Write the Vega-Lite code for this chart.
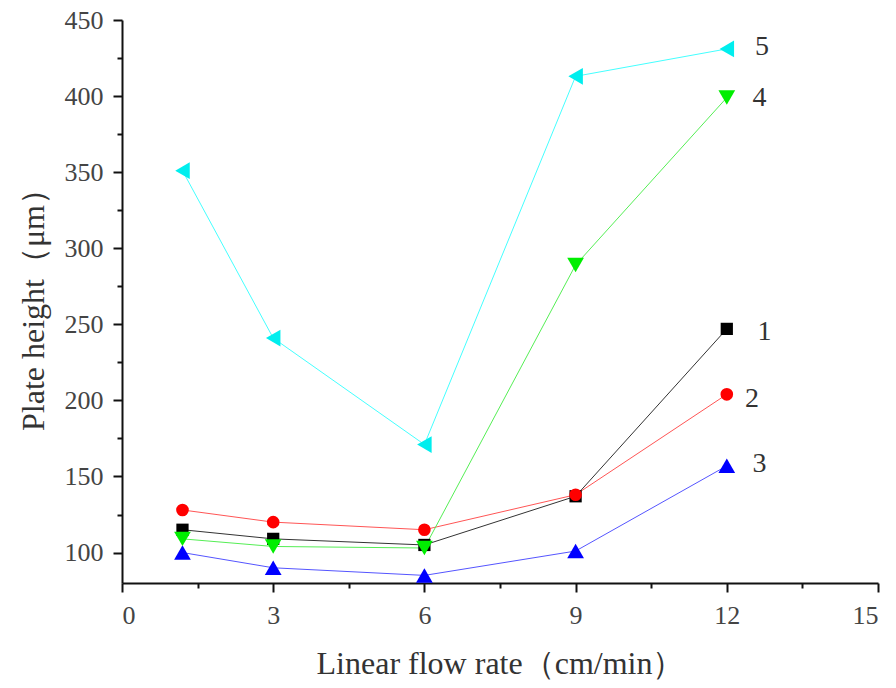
{
  "$schema": "https://vega.github.io/schema/vega-lite/v6.json",
  "autosize": "none",
  "width": 756,
  "height": 563,
  "padding": {"left": 122, "top": 20, "right": 18, "bottom": 105},
  "background": "white",
  "config": {
    "view": {"stroke": null},
    "font": "Liberation Serif",
    "axis": {
      "grid": false,
      "domainColor": "#111",
      "domainWidth": 2,
      "tickColor": "#111",
      "tickWidth": 2,
      "labelFont": "Liberation Serif",
      "titleFont": "Liberation Serif",
      "labelColor": "#444",
      "titleColor": "#333",
      "labelFontSize": 26,
      "titleFontSize": 32,
      "titleFontWeight": "normal"
    }
  },
  "datasets": {
    "pts": [
      {"series": "1", "x": 1.2, "y": 115},
      {"series": "1", "x": 3, "y": 109},
      {"series": "1", "x": 6, "y": 105},
      {"series": "1", "x": 9, "y": 137},
      {"series": "1", "x": 12, "y": 247},
      {"series": "2", "x": 1.2, "y": 128},
      {"series": "2", "x": 3, "y": 120},
      {"series": "2", "x": 6, "y": 115},
      {"series": "2", "x": 9, "y": 138},
      {"series": "2", "x": 12, "y": 204},
      {"series": "3", "x": 1.2, "y": 100},
      {"series": "3", "x": 3, "y": 90},
      {"series": "3", "x": 6, "y": 85},
      {"series": "3", "x": 9, "y": 101},
      {"series": "3", "x": 12, "y": 157},
      {"series": "4", "x": 1.2, "y": 109},
      {"series": "4", "x": 3, "y": 104},
      {"series": "4", "x": 6, "y": 103},
      {"series": "4", "x": 9, "y": 289},
      {"series": "4", "x": 12, "y": 399},
      {"series": "5", "x": 1.2, "y": 351},
      {"series": "5", "x": 3, "y": 241},
      {"series": "5", "x": 6, "y": 171},
      {"series": "5", "x": 9, "y": 413},
      {"series": "5", "x": 12, "y": 431}
    ],
    "labels": [
      {"series": "1", "x": 12.75, "y": 245},
      {"series": "2", "x": 12.5, "y": 201},
      {"series": "3", "x": 12.65, "y": 158},
      {"series": "4", "x": 12.65, "y": 399},
      {"series": "5", "x": 12.7, "y": 432}
    ]
  },
  "layer": [
    {
      "data": {"name": "pts"},
      "mark": {"type": "line", "strokeWidth": 1},
      "encoding": {
        "x": {
          "field": "x", "type": "quantitative",
          "scale": {"domain": [0, 15], "nice": false, "zero": false},
          "axis": {"values": [0, 3, 6, 9, 12, 15], "tickSize": 9, "labelPadding": 10, "title": "Linear flow rate（cm/min）", "titlePadding": 20}
        },
        "y": {
          "field": "y", "type": "quantitative",
          "scale": {"domain": [80, 450], "nice": false, "zero": false},
          "axis": {"values": [100, 150, 200, 250, 300, 350, 400, 450], "tickSize": 9, "labelPadding": 10, "title": "Plate height（μm）", "titlePadding": 14}
        },
        "color": {
          "field": "series", "type": "nominal",
          "scale": {"domain": ["1", "2", "3", "4", "5"], "range": ["#333333", "#ff5555", "#5555ff", "#55ee55", "#44ffff"]},
          "legend": null
        }
      }
    },
    {
      "data": {"name": "pts"},
      "mark": {"type": "point", "filled": true, "opacity": 1},
      "encoding": {
        "x": {"field": "x", "type": "quantitative", "axis": {"values": [1.5, 4.5, 7.5, 10.5, 13.5], "labels": false, "domain": false, "tickSize": 5, "title": null, "orient": "bottom"}},
        "y": {"field": "y", "type": "quantitative", "axis": {"values": [125, 175, 225, 275, 325, 375, 425], "labels": false, "domain": false, "tickSize": 5, "title": null, "orient": "left"}},
        "shape": {
          "field": "series", "type": "nominal",
          "scale": {"domain": ["1", "2", "3", "4", "5"], "range": ["square", "circle", "triangle-up", "triangle-down", "triangle-left"]},
          "legend": null
        },
        "size": {
          "field": "series", "type": "nominal",
          "scale": {"type": "ordinal", "domain": ["1", "2", "3", "4", "5"], "range": [150, 160, 280, 280, 280]},
          "legend": null
        },
        "fill": {
          "field": "series", "type": "nominal",
          "scale": {"domain": ["1", "2", "3", "4", "5"], "range": ["#000000", "#ff0000", "#0000ff", "#00ee00", "#00eeee"]},
          "legend": null
        }
      }
    },
    {
      "data": {"name": "labels"},
      "mark": {"type": "text", "fontSize": 28, "font": "Liberation Serif", "color": "#333", "align": "center", "baseline": "middle"},
      "encoding": {
        "x": {"field": "x", "type": "quantitative", "axis": null},
        "y": {"field": "y", "type": "quantitative", "axis": null},
        "text": {"field": "series", "type": "nominal"}
      }
    }
  ],
  "resolve": {"axis": {"x": "independent", "y": "independent"}}
}
